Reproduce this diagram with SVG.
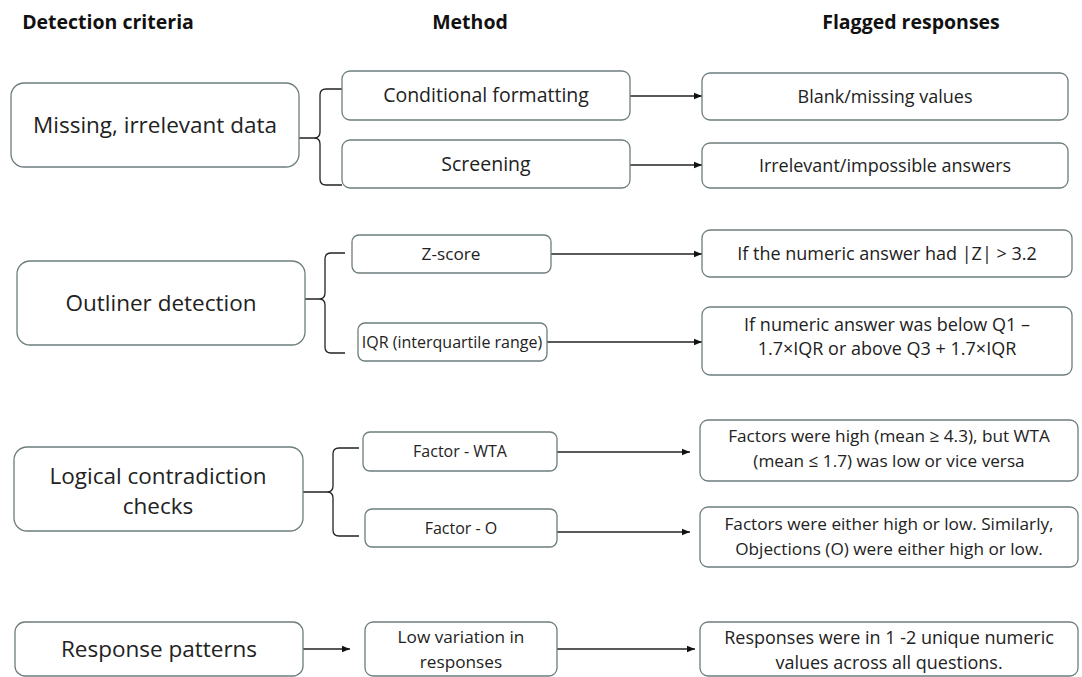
<svg xmlns="http://www.w3.org/2000/svg" width="1082" height="677" viewBox="0 0 1082 677">
<defs>
<style>
.hdr{font-family:"Open Sans","Liberation Sans",sans-serif;font-weight:bold;font-size:19.5px;fill:#111;text-anchor:middle}
.big{font-family:"Open Sans","Liberation Sans",sans-serif;font-size:22.5px;fill:#222;text-anchor:middle}
.sm{font-family:"Open Sans","Liberation Sans",sans-serif;font-size:18px;fill:#222;text-anchor:middle}
.m1{font-size:19.5px}
.s16{font-size:16px}
.s17{font-size:17.2px}
.box{fill:#fff;stroke:#6e7d7e;stroke-width:1.3}
.con{fill:none;stroke:#222;stroke-width:1.3}
</style>
<marker id="ah" viewBox="0 0 10 10" refX="10" refY="5" markerWidth="8" markerHeight="8" markerUnits="userSpaceOnUse" orient="auto">
<path d="M0,1 L10,5 L0,9 z" fill="#111"/>
</marker>
</defs>
<rect width="1082" height="677" fill="#fff"/>
<g id="headers">
<text class="hdr" x="108" y="29">Detection criteria</text>
<text class="hdr" x="470" y="29">Method</text>
<text class="hdr" x="911" y="29">Flagged responses</text>
</g>
<g id="connectors">
<path class="con" d="M342,89 H326 Q320,89 320,95 V132 Q320,138 314,138 H299 M314,138 Q320,138 320,144 V179 Q320,185 326,185 H342"/>
<path class="con" d="M345,253 H331 Q325,253 325,259 V293 Q325,299 319,299 H305 M319,299 Q325,299 325,305 V347 Q325,353 331,353 H345"/>
<path class="con" d="M359,448 H339 Q333,448 333,454 V486 Q333,492 327,492 H303 M327,492 Q333,492 333,498 V530 Q333,536 339,536 H359"/>
<line class="con" x1="630" y1="96" x2="702" y2="96" marker-end="url(#ah)"/>
<line class="con" x1="630" y1="165" x2="702" y2="165" marker-end="url(#ah)"/>
<line class="con" x1="551" y1="254" x2="702" y2="254" marker-end="url(#ah)"/>
<line class="con" x1="547" y1="342" x2="702" y2="342" marker-end="url(#ah)"/>
<line class="con" x1="557" y1="452" x2="690" y2="452" marker-end="url(#ah)"/>
<line class="con" x1="557" y1="532" x2="690" y2="532" marker-end="url(#ah)"/>
<line class="con" x1="303" y1="649" x2="350" y2="649" marker-end="url(#ah)"/>
<line class="con" x1="557" y1="649" x2="695" y2="649" marker-end="url(#ah)"/>
</g>
<g id="n-missing"><rect class="box" x="11" y="83" width="288" height="84" rx="13"/><text class="big" x="155" y="133">Missing, irrelevant data</text></g>
<g id="n-condfmt"><rect class="box" x="342" y="71" width="288" height="49" rx="8"/><text class="sm m1" x="486" y="102">Conditional formatting</text></g>
<g id="n-screening"><rect class="box" x="342" y="140" width="288" height="48" rx="8"/><text class="sm m1" x="486" y="171">Screening</text></g>
<g id="n-blank"><rect class="box" x="702" y="73" width="366" height="47" rx="8"/><text class="sm" x="885" y="103">Blank/missing values</text></g>
<g id="n-irrel"><rect class="box" x="702" y="143" width="366" height="45" rx="8"/><text class="sm" x="885" y="172">Irrelevant/impossible answers</text></g>

<g id="n-outlier"><rect class="box" x="17" y="261" width="288" height="84" rx="13"/><text class="big" x="161" y="311">Outliner detection</text></g>
<g id="n-zscore"><rect class="box" x="352" y="235" width="199" height="38" rx="7"/><text class="sm s17" x="451" y="260">Z-score</text></g>
<g id="n-iqr"><rect class="box" x="358" y="323" width="189" height="38" rx="7"/><text class="sm s16" x="452" y="348">IQR (interquartile range)</text></g>
<g id="n-zflag"><rect class="box" x="702" y="230" width="370" height="47" rx="8"/><text class="sm" x="887" y="260">If the numeric answer had |Z| &gt; 3.2</text></g>
<g id="n-iqrflag"><rect class="box" x="702" y="307" width="370" height="68" rx="8"/><text class="sm" x="887" y="331">If numeric answer was below Q1 –</text><text class="sm" x="887" y="355">1.7×IQR or above Q3 + 1.7×IQR</text></g>

<g id="n-logical"><rect class="box" x="14" y="447" width="289" height="84" rx="13"/><text class="big" x="158" y="484">Logical contradiction</text><text class="big" x="158" y="514">checks</text></g>
<g id="n-fwta"><rect class="box" x="363" y="432" width="194" height="39" rx="7"/><text class="sm s16" x="460" y="457">Factor - WTA</text></g>
<g id="n-fo"><rect class="box" x="365" y="509" width="192" height="38" rx="7"/><text class="sm s16" x="461" y="534">Factor - O</text></g>
<g id="n-wtaflag"><rect class="box" x="700" y="420" width="378" height="61" rx="8"/><text class="sm s17" x="889" y="442">Factors were high (mean ≥ 4.3), but WTA</text><text class="sm s17" x="889" y="467">(mean ≤ 1.7) was low or vice versa</text></g>
<g id="n-oflag"><rect class="box" x="700" y="507" width="378" height="60" rx="8"/><text class="sm s17" x="889" y="530">Factors were either high or low. Similarly,</text><text class="sm s17" x="889" y="555">Objections (O) were either high or low.</text></g>

<g id="n-patterns"><rect class="box" x="15" y="622" width="288" height="54" rx="10"/><text class="big" x="159" y="657">Response patterns</text></g>
<g id="n-lowvar"><rect class="box" x="365" y="622" width="192" height="54" rx="8"/><text class="sm s17" x="461" y="643">Low variation in</text><text class="sm s17" x="461" y="668">responses</text></g>
<g id="n-unique"><rect class="box" x="700" y="622" width="378" height="54" rx="8"/><text class="sm" x="889" y="644">Responses were in 1 -2 unique numeric</text><text class="sm" x="889" y="669">values across all questions.</text></g>
</svg>
